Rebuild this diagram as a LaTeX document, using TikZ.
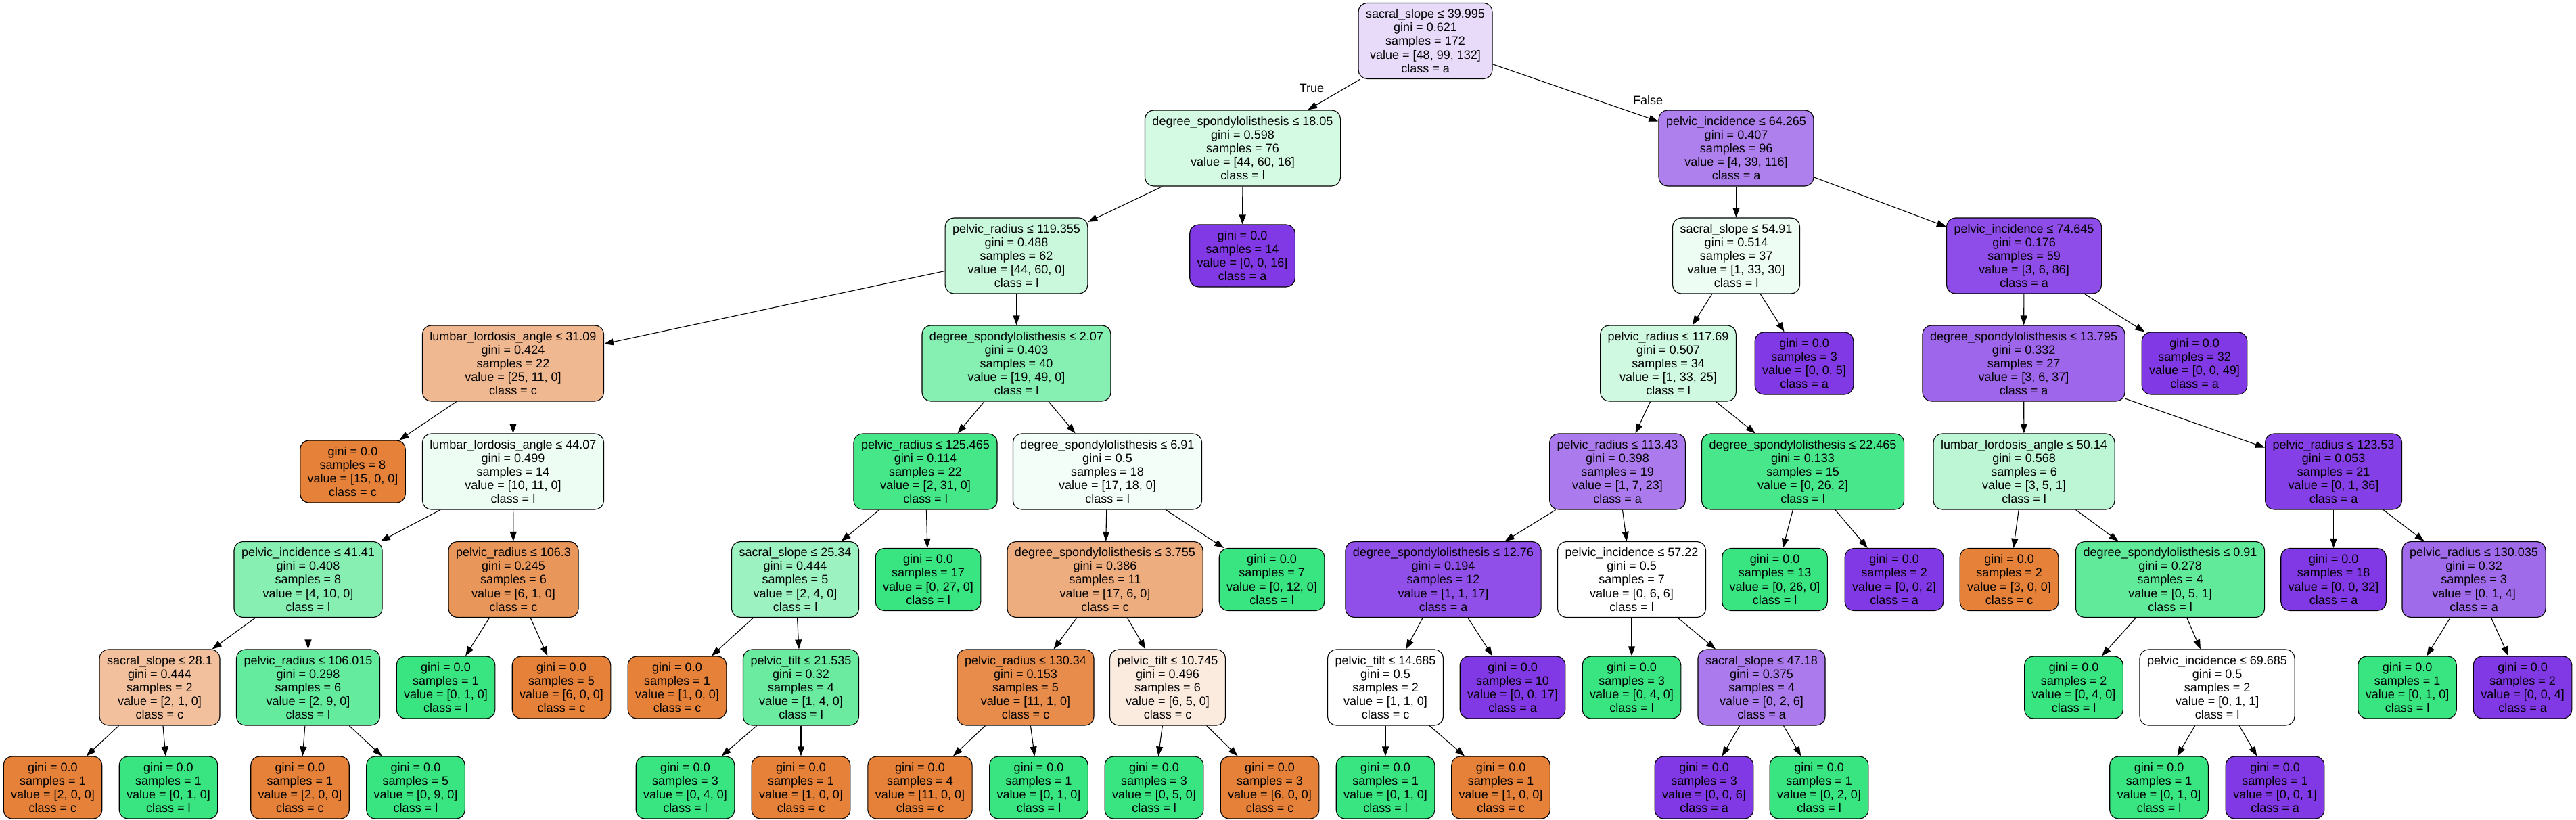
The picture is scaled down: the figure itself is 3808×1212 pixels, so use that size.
\documentclass[tikz,border=0pt]{standalone}
\usepackage{fontspec}
\setmainfont{Liberation Sans}
\usetikzlibrary{arrows.meta}
\definecolor{cO}{HTML}{E58139}
\definecolor{cG}{HTML}{39E581}
\definecolor{cP}{HTML}{8139E5}
\newcommand{\treefont}{\fontsize{18}{20.2}\selectfont}
\newcommand{\leaftext}[3]{gini = 0.0\\samples = #1\\value = [#2]\\class = #3}
\tikzset{
  tn/.style={draw=black, line width=1.1pt, rounded corners=13pt, align=center,
    font=\treefont, inner xsep=11pt, inner ysep=0pt, minimum height=112pt},
  lfn/.style={tn, minimum height=92pt},
  ed/.style={-{Triangle[length=14pt,width=10pt]}, line width=1.1pt},
  elab/.style={font=\treefont, inner sep=0pt}
}
\begin{document}
\begin{tikzpicture}[x=1pt,y=-1pt]
\useasboundingbox (0,0) rectangle (3808,1212);
\fill[white] (0,0) rectangle (3808,1212);
% level 0
\node[tn, fill=cP!18.3!white] (n0) at (2107,60.5) {sacral\_slope ≤ 39.995\\gini = 0.621\\samples = 172\\value = [48, 99, 132]\\class = a};
% level 1
\node[tn, fill=cG!21.1!white] (n1) at (1837,219) {degree\_spondylolisthesis ≤ 18.05\\gini = 0.598\\samples = 76\\value = [44, 60, 16]\\class = l};
\node[tn, fill=cP!64.2!white] (n2) at (2566.5,219) {pelvic\_incidence ≤ 64.265\\gini = 0.407\\samples = 96\\value = [4, 39, 116]\\class = a};
% level 2
\node[tn, fill=cG!26.7!white] (n3) at (1502.5,378) {pelvic\_radius ≤ 119.355\\gini = 0.488\\samples = 62\\value = [44, 60, 0]\\class = l};
\node[lfn, fill=cP] (n4) at (1836.5,378) {\leaftext{14}{0, 0, 16}{a}};
\node[tn, fill=cG!8.8!white] (n5) at (2566.5,378) {sacral\_slope ≤ 54.91\\gini = 0.514\\samples = 37\\value = [1, 33, 30]\\class = l};
\node[tn, fill=cP!89.9!white] (n6) at (2992,378) {pelvic\_incidence ≤ 74.645\\gini = 0.176\\samples = 59\\value = [3, 6, 86]\\class = a};
% level 3
\node[tn, fill=cO!56!white] (n7) at (758.5,537) {lumbar\_lordosis\_angle ≤ 31.09\\gini = 0.424\\samples = 22\\value = [25, 11, 0]\\class = c};
\node[tn, fill=cG!61.2!white] (n8) at (1502.5,537) {degree\_spondylolisthesis ≤ 2.07\\gini = 0.403\\samples = 40\\value = [19, 49, 0]\\class = l};
\node[tn, fill=cG!23.5!white] (n9) at (2466,537) {pelvic\_radius ≤ 117.69\\gini = 0.507\\samples = 34\\value = [1, 33, 25]\\class = l};
\node[lfn, fill=cP] (n10) at (2667,537) {\leaftext{3}{0, 0, 5}{a}};
\node[tn, fill=cP!77.5!white] (n11) at (2991.5,537) {degree\_spondylolisthesis ≤ 13.795\\gini = 0.332\\samples = 27\\value = [3, 6, 37]\\class = a};
\node[lfn, fill=cP] (n12) at (3244,537) {\leaftext{32}{0, 0, 49}{a}};
% level 4
\node[lfn, fill=cO] (n13) at (521.5,697) {\leaftext{8}{15, 0, 0}{c}};
\node[tn, fill=cG!9.1!white] (n14) at (758.5,697) {lumbar\_lordosis\_angle ≤ 44.07\\gini = 0.499\\samples = 14\\value = [10, 11, 0]\\class = l};
\node[tn, fill=cG!93.5!white] (n15) at (1368,697) {pelvic\_radius ≤ 125.465\\gini = 0.114\\samples = 22\\value = [2, 31, 0]\\class = l};
\node[tn, fill=cG!5.6!white] (n16) at (1637,697) {degree\_spondylolisthesis ≤ 6.91\\gini = 0.5\\samples = 18\\value = [17, 18, 0]\\class = l};
\node[tn, fill=cP!66.7!white] (n17) at (2391,697) {pelvic\_radius ≤ 113.43\\gini = 0.398\\samples = 19\\value = [1, 7, 23]\\class = a};
\node[tn, fill=cG!92.3!white] (n18) at (2665,697) {degree\_spondylolisthesis ≤ 22.465\\gini = 0.133\\samples = 15\\value = [0, 26, 2]\\class = l};
\node[tn, fill=cG!33.3!white] (n19) at (2992,697) {lumbar\_lordosis\_angle ≤ 50.14\\gini = 0.568\\samples = 6\\value = [3, 5, 1]\\class = l};
\node[tn, fill=cP!97.2!white] (n20) at (3449.5,697) {pelvic\_radius ≤ 123.53\\gini = 0.053\\samples = 21\\value = [0, 1, 36]\\class = a};
% level 5
\node[tn, fill=cG!60!white] (n21) at (455.5,856.5) {pelvic\_incidence ≤ 41.41\\gini = 0.408\\samples = 8\\value = [4, 10, 0]\\class = l};
\node[tn, fill=cO!83.3!white] (n22) at (759,856.5) {pelvic\_radius ≤ 106.3\\gini = 0.245\\samples = 6\\value = [6, 1, 0]\\class = c};
\node[tn, fill=cG!50!white] (n23) at (1175.5,856.5) {sacral\_slope ≤ 25.34\\gini = 0.444\\samples = 5\\value = [2, 4, 0]\\class = l};
\node[lfn, fill=cG] (n24) at (1372,856.5) {\leaftext{17}{0, 27, 0}{l}};
\node[tn, fill=cO!64.7!white] (n25) at (1633.5,856.5) {degree\_spondylolisthesis ≤ 3.755\\gini = 0.386\\samples = 11\\value = [17, 6, 0]\\class = c};
\node[lfn, fill=cG] (n26) at (1880,856.5) {\leaftext{7}{0, 12, 0}{l}};
\node[tn, fill=cP!88.9!white] (n27) at (2133.5,856.5) {degree\_spondylolisthesis ≤ 12.76\\gini = 0.194\\samples = 12\\value = [1, 1, 17]\\class = a};
\node[tn, fill=white] (n28) at (2412,856.5) {pelvic\_incidence ≤ 57.22\\gini = 0.5\\samples = 7\\value = [0, 6, 6]\\class = l};
\node[lfn, fill=cG] (n29) at (2623.5,856.5) {\leaftext{13}{0, 26, 0}{l}};
\node[lfn, fill=cP] (n30) at (2800,856.5) {\leaftext{2}{0, 0, 2}{a}};
\node[lfn, fill=cO] (n31) at (2970,856.5) {\leaftext{2}{3, 0, 0}{c}};
\node[tn, fill=cG!80!white] (n32) at (3208,856.5) {degree\_spondylolisthesis ≤ 0.91\\gini = 0.278\\samples = 4\\value = [0, 5, 1]\\class = l};
\node[lfn, fill=cP] (n33) at (3449.5,856.5) {\leaftext{18}{0, 0, 32}{a}};
\node[tn, fill=cP!75!white] (n34) at (3657,856.5) {pelvic\_radius ≤ 130.035\\gini = 0.32\\samples = 3\\value = [0, 1, 4]\\class = a};
% level 6
\node[tn, fill=cO!50!white] (n35) at (236,1016) {sacral\_slope ≤ 28.1\\gini = 0.444\\samples = 2\\value = [2, 1, 0]\\class = c};
\node[tn, fill=cG!77.8!white] (n36) at (455.5,1016) {pelvic\_radius ≤ 106.015\\gini = 0.298\\samples = 6\\value = [2, 9, 0]\\class = l};
\node[lfn, fill=cG] (n37) at (659,1016) {\leaftext{1}{0, 1, 0}{l}};
\node[lfn, fill=cO] (n38) at (830,1016) {\leaftext{5}{6, 0, 0}{c}};
\node[lfn, fill=cO] (n39) at (1001,1016) {\leaftext{1}{1, 0, 0}{c}};
\node[tn, fill=cG!75!white] (n40) at (1184,1016) {pelvic\_tilt ≤ 21.535\\gini = 0.32\\samples = 4\\value = [1, 4, 0]\\class = l};
\node[tn, fill=cO!90.9!white] (n41) at (1516,1016) {pelvic\_radius ≤ 130.34\\gini = 0.153\\samples = 5\\value = [11, 1, 0]\\class = c};
\node[tn, fill=cO!16.7!white] (n42) at (1726,1016) {pelvic\_tilt ≤ 10.745\\gini = 0.496\\samples = 6\\value = [6, 5, 0]\\class = c};
\node[tn, fill=white] (n43) at (2048,1016) {pelvic\_tilt ≤ 14.685\\gini = 0.5\\samples = 2\\value = [1, 1, 0]\\class = c};
\node[lfn, fill=cP] (n44) at (2236,1016) {\leaftext{10}{0, 0, 17}{a}};
\node[lfn, fill=cG] (n45) at (2412,1016) {\leaftext{3}{0, 4, 0}{l}};
\node[tn, fill=cP!66.7!white] (n46) at (2604,1016) {sacral\_slope ≤ 47.18\\gini = 0.375\\samples = 4\\value = [0, 2, 6]\\class = a};
\node[lfn, fill=cG] (n47) at (3065.5,1016) {\leaftext{2}{0, 4, 0}{l}};
\node[tn, fill=white] (n48) at (3277.5,1016) {pelvic\_incidence ≤ 69.685\\gini = 0.5\\samples = 2\\value = [0, 1, 1]\\class = l};
\node[lfn, fill=cG] (n49) at (3558.5,1016) {\leaftext{1}{0, 1, 0}{l}};
\node[lfn, fill=cP] (n50) at (3729,1016) {\leaftext{2}{0, 0, 4}{a}};
% level 7
\node[lfn, fill=cO] (n51) at (78,1164) {\leaftext{1}{2, 0, 0}{c}};
\node[lfn, fill=cG] (n52) at (249,1164) {\leaftext{1}{0, 1, 0}{l}};
\node[lfn, fill=cO] (n53) at (443.5,1164) {\leaftext{1}{2, 0, 0}{c}};
\node[lfn, fill=cG] (n54) at (614.5,1164) {\leaftext{5}{0, 9, 0}{l}};
\node[lfn, fill=cG] (n55) at (1013,1164) {\leaftext{3}{0, 4, 0}{l}};
\node[lfn, fill=cO] (n56) at (1184,1164) {\leaftext{1}{1, 0, 0}{c}};
\node[lfn, fill=cO] (n57) at (1360,1164) {\leaftext{4}{11, 0, 0}{c}};
\node[lfn, fill=cG] (n58) at (1535.5,1164) {\leaftext{1}{0, 1, 0}{l}};
\node[lfn, fill=cG] (n59) at (1706,1164) {\leaftext{3}{0, 5, 0}{l}};
\node[lfn, fill=cO] (n60) at (1877,1164) {\leaftext{3}{6, 0, 0}{c}};
\node[lfn, fill=cG] (n61) at (2048,1164) {\leaftext{1}{0, 1, 0}{l}};
\node[lfn, fill=cO] (n62) at (2218.5,1164) {\leaftext{1}{1, 0, 0}{c}};
\node[lfn, fill=cP] (n63) at (2519,1164) {\leaftext{3}{0, 0, 6}{a}};
\node[lfn, fill=cG] (n64) at (2689,1164) {\leaftext{1}{0, 2, 0}{l}};
\node[lfn, fill=cG] (n65) at (3191.5,1164) {\leaftext{1}{0, 1, 0}{l}};
\node[lfn, fill=cP] (n66) at (3363,1164) {\leaftext{1}{0, 0, 1}{a}};
% edge labels
\node[elab] (ltrue) at (1939,130) {True};
\node[elab] (lfalse) at (2436,148) {False};
% edges
\foreach \a/\b in {n0/n1,n0/n2,n1/n3,n1/n4,n2/n5,n2/n6,n3/n7,n3/n8,n5/n9,n5/n10,
  n6/n11,n6/n12,n7/n13,n7/n14,n8/n15,n8/n16,n9/n17,n9/n18,n11/n19,n11/n20,
  n14/n21,n14/n22,n15/n23,n15/n24,n16/n25,n16/n26,n17/n27,n17/n28,n18/n29,n18/n30,
  n19/n31,n19/n32,n20/n33,n20/n34,n21/n35,n21/n36,n22/n37,n22/n38,n23/n39,n23/n40,
  n25/n41,n25/n42,n27/n43,n27/n44,n28/n45,n28/n46,n32/n47,n32/n48,n34/n49,n34/n50,
  n35/n51,n35/n52,n36/n53,n36/n54,n40/n55,n40/n56,n41/n57,n41/n58,n42/n59,n42/n60,
  n43/n61,n43/n62,n46/n63,n46/n64,n48/n65,n48/n66}
  \draw[ed] (\a) -- (\b);
\end{tikzpicture}
\end{document}
